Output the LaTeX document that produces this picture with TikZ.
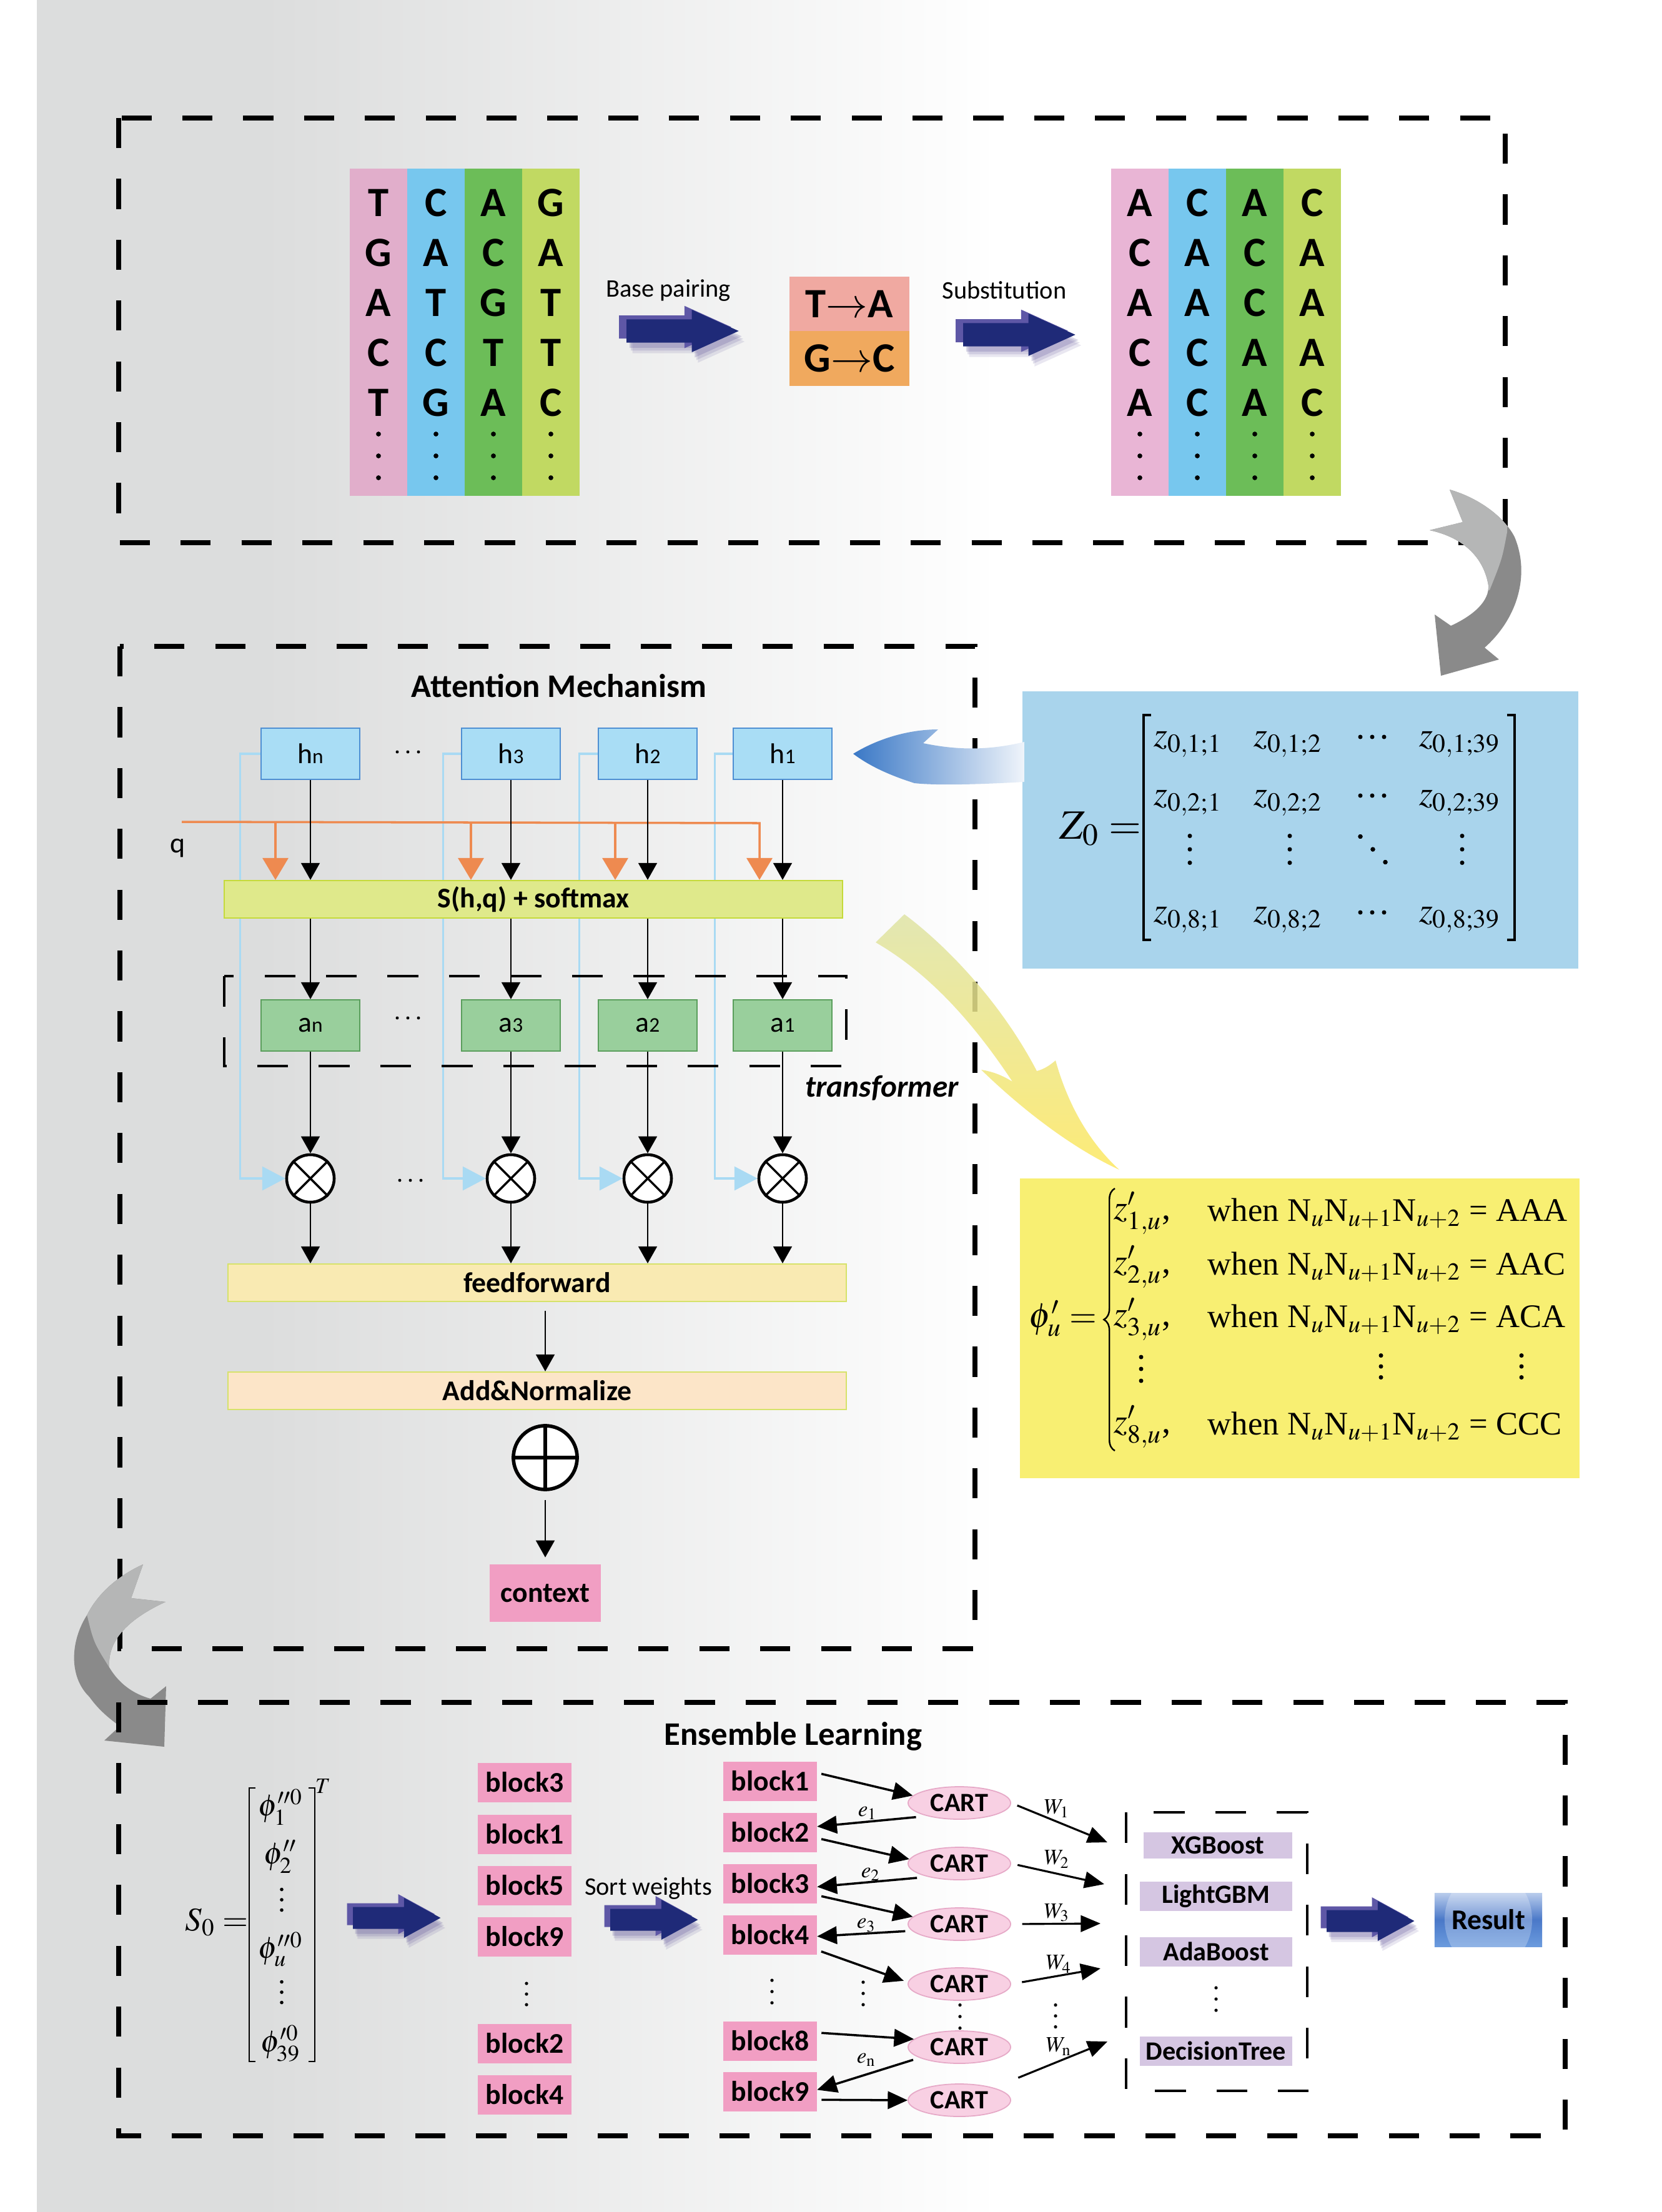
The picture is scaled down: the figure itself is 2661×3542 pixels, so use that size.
\documentclass[tikz,border=0pt]{standalone}
\usepackage{amsmath}
\usepackage{mathptmx}
\usepackage[no-math]{fontspec}
\setmainfont{Carlito}
\newfontfamily\tnr{Liberation Serif}
\usetikzlibrary{arrows.meta,shapes.geometric,decorations.pathreplacing}

\newcommand\fsz[1]{\fontsize{#1}{#1}\selectfont}
% three dots, upright and across
\newcommand\vdts[4]{\foreach \k in {-1,0,1} \fill (#1,{#2+\k*#3}) circle (#4);}
\newcommand\hdts[4]{\foreach \k in {-1,0,1} \fill ({#1+\k*#3},#2) circle (#4);}

\definecolor{bggray}{HTML}{DCDDDD}
\definecolor{dnapink}{HTML}{E1AECB}
\definecolor{rpink}{HTML}{E9B5D5}
\definecolor{dnablue}{HTML}{77C7EE}
\definecolor{dnagreen}{HTML}{6CBD58}
\definecolor{dnalime}{HTML}{C1D962}
\definecolor{tafill}{HTML}{F0A9A1}
\definecolor{gcfill}{HTML}{F0A95E}
\definecolor{navy}{HTML}{1F2A78}
\definecolor{navylight}{HTML}{5E57A6}
\definecolor{navyshade}{HTML}{4B3F8C}
\definecolor{graylight}{HTML}{B5B6B6}
\definecolor{graydark}{HTML}{8A8A8A}
\definecolor{zblue}{HTML}{A9D4EC}
\definecolor{phiyellow}{HTML}{F8EF72}
\definecolor{arrblue}{HTML}{3A78C6}
\definecolor{yolive}{HTML}{DFE4A6}
\definecolor{yyellow}{HTML}{FDE860}
\definecolor{hfill}{HTML}{A9DDF5}
\definecolor{hedge}{HTML}{4E8FD3}
\definecolor{afill}{HTML}{99CF9C}
\definecolor{aedge}{HTML}{5A9E5C}
\definecolor{sfill}{HTML}{DFE98B}
\definecolor{sedge}{HTML}{C5DA3A}
\definecolor{fffill}{HTML}{F9EAB2}
\definecolor{ffedge}{HTML}{D6E26A}
\definecolor{anfill}{HTML}{FCE5C8}
\definecolor{qorange}{HTML}{EE8A50}
\definecolor{feedblue}{HTML}{A9DAF3}
\definecolor{blockpink}{HTML}{F19EC3}
\definecolor{cartfill}{HTML}{F8D0E3}
\definecolor{cartedge}{HTML}{E6A9C7}
\definecolor{modelfill}{HTML}{D5C6E2}
\definecolor{restop}{HTML}{B9CCEC}
\definecolor{resmid}{HTML}{4A78C8}
\definecolor{resbot}{HTML}{6B9BDE}

\begin{document}
\begin{tikzpicture}[x=0.01cm, y=-0.01cm,
    bigdash/.style={line width=2.2pt, dash pattern=on 13.7pt off 14pt},
    thindash/.style={line width=0.9pt, dash pattern=on 14pt off 14pt},
    lbl/.style={font=\fsz{11.5}},
    ttl/.style={font=\bfseries\fsz{15}},
    dnaletter/.style={font=\bfseries\fsz{19}, inner sep=0pt},
    tabox/.style={minimum width=1.91cm, minimum height=0.87cm, inner sep=0pt, font=\bfseries\fsz{19}},
    hbox/.style={draw=hedge, fill=hfill, line width=0.6pt, minimum width=1.58cm, minimum height=0.82cm, inner sep=0pt, font=\fsz{13}},
    abox/.style={hbox, draw=aedge, fill=afill},
    wide/.style={minimum width=9.9cm, minimum height=0.6cm, inner sep=0pt, line width=0.6pt, font=\bfseries\fsz{13}},
    mult/.style={circle, draw, fill=white, line width=1.3pt, minimum size=0.76cm, inner sep=0pt},
    blk/.style={-{Triangle[width=8.5pt,length=7.7pt]}, line width=0.65pt},
    qarr/.style={-{Triangle[width=11.7pt,length=10pt]}, draw=qorange, line width=1pt},
    feed/.style={-{Triangle[width=10.8pt,length=10.5pt]}, draw=feedblue, line width=0.9pt},
    blockbox/.style={fill=blockpink, minimum width=1.49cm, minimum height=0.63cm, inner sep=0pt, font=\bfseries\fsz{13}},
    cart/.style={ellipse, draw=cartedge, fill=cartfill, line width=0.5pt, minimum width=1.64cm, minimum height=0.52cm, inner sep=0pt, font=\bfseries\fsz{12}},
    model/.style={fill=modelfill, minimum width=2.43cm, minimum height=0.47cm, inner sep=0pt, font=\bfseries\fsz{12}},
    ens/.style={-{Triangle[width=8pt,length=9pt]}, line width=1pt, shorten <=2pt},
    warr/.style={-{Triangle[width=7.5pt,length=9pt]}, line width=0.9pt},
    zmath/.style={inner sep=0pt, font=\fsz{16}},
    pmath/.style={inner sep=0pt, font=\tnr\fsz{16}},
    smath/.style={inner sep=0pt, font=\fsz{14}},
    elbl/.style={inner sep=0pt, font=\fsz{10}},
    resbox/.style={minimum width=1.72cm, minimum height=0.86cm, inner sep=0pt, top color=restop, bottom color=resbot, middle color=resmid, font=\bfseries\fsz{13},
      path picture={\fill[white, opacity=0.25] (path picture bounding box.center) ellipse (0.7cm and 0.8cm);}},
    navyarrow/.pic={
      \foreach \dx/\dy/\clr/\op in {8/16/navyshade/0.12, 6/12/navyshade/0.15, 4/8/navyshade/0.2, -10/-6/navylight/1, 0/0/navy/1}
        \fill[\clr, opacity=\op, shift={(\dx,\dy)}] (0,-17.5) -- (88,-17.5) -- (88,-32) -- (151,0) -- (88,32) -- (88,17.5) -- (0,17.5) -- cycle;
    }]
    % background
    \useasboundingbox (0,0) rectangle (2661,3542);
    \fill[white] (0,0) rectangle (2661,3542);
    \fill[bggray] (59,0) rectangle (421,3542);
    \shade[left color=bggray, right color=white] (420,0) rectangle (1600,3542);

    % draw top box
    \draw[bigdash] (190,189) rectangle (2410,869);
    \foreach \clr/\seq [count=\ci] in {dnapink/{T,G,A,C,T}, dnablue/{C,A,T,C,G}, dnagreen/{A,C,G,T,A}, dnalime/{G,A,T,T,C}} {
        \fill[\clr] ({468+92*\ci},270) rectangle ({560+92*\ci},794);
        \foreach \base [count=\ri] in \seq
            \node[dnaletter] (ld\ci\ri) at ({514+92*\ci},{245+80*\ri}) {\base};
        \vdts{514+92*\ci}{730}{35}{1.1pt}
    }
    \foreach \clr/\seq [count=\ci] in {rpink/{A,C,A,C,A}, dnablue/{C,A,A,C,C}, dnagreen/{A,C,C,A,A}, dnalime/{C,A,A,A,C}} {
        \fill[\clr] ({1687+92*\ci},270) rectangle ({1779+92*\ci},794);
        \foreach \base [count=\ri] in \seq
            \node[dnaletter] (rd\ci\ri) at ({1733+92*\ci},{245+80*\ri}) {\base};
        \vdts{1733+92*\ci}{730}{35}{1.1pt}
    }
    \node[lbl] (bp) at (1070,465) {Base pairing};
    \pic[xscale=1.19, yscale=1.06] at (1003,530) {navyarrow};
    \node[tabox, fill=tafill] (ta) at (1360,487) {T$\rightarrow$A};
    \node[tabox, fill=gcfill] (gc) at (1360,574) {G$\rightarrow$C};
    \node[lbl] (subst) at (1608,465) {Substitution};
    \pic[xscale=1.19, yscale=1.06] at (1542,536) {navyarrow};

    % gray arrow down to the matrix
    \begin{scope}
        \clip (2321,784) .. controls (2370,798) and (2410,830) .. (2425,860) .. controls (2450,920) and (2430,990) .. (2377,1037) -- (2400,1056) -- (2307,1082) -- (2297,984) -- (2323,1002) .. controls (2360,985) and (2385,962) .. (2383,937) .. controls (2375,890) and (2340,860) .. (2289,849) -- (2342,836) -- cycle;
        \fill[graydark] (2270,770) rectangle (2460,1090);
        \fill[graylight] (2250,760) -- (2416,760) -- (2413,852) .. controls (2405,895) .. (2385,945) -- (2250,945) -- cycle;
    \end{scope}

    % draw Z0 box
    \node[fill=zblue, minimum width=8.89cm, minimum height=4.44cm, inner sep=0pt] (zbox) at (2082,1329) {};
    \node[zmath, font=\fsz{19}] (zlhs) at (1762,1327) {$Z_0 =$};
    \foreach \rw/\yy in {1/1192, 2/1286, 8/1473} {
        \foreach \cl/\xx in {1/1902, 2/2062, 39/2337}
            \node[zmath] (z\rw-\cl) at (\xx,\yy) {$z_{0,\rw;\cl}$};
        \hdts{2197}{\yy-12}{19}{1pt}
    }
    \foreach \xx in {1905,2065,2341}
        \vdts{\xx}{1360}{21.5}{1pt}
    \foreach \k in {-1,0,1}
        \fill ({2198+\k*20},{1360+\k*20.5}) circle (1pt);
    \draw[line width=0.9pt] (1843,1145) -- (1831,1145) -- (1831,1505) -- (1843,1505);
    \draw[line width=0.9pt] (2413,1145) -- (2425,1145) -- (2425,1505) -- (2413,1505);

    % draw phi box
    \node[fill=phiyellow, minimum width=8.96cm, minimum height=4.79cm, inner sep=0pt] (phibox) at (2081,2127) {};
    \node[pmath] (phil) at (1702,2111) {$\phi'_u =$};
    \draw[decorate, decoration={brace, amplitude=5pt}, line width=0.7pt] (1785,2323) -- (1785,1903);
    \foreach \ki/\yy/\tripl in {1/1943/AAA, 2/2029/AAC, 3/2113/ACA, 8/2285/CCC} {
        \node[pmath] (zp\ki) at (1829,\yy) {$z'_{\ki,u}$,};
        \node[pmath, font=\tnr\fsz{15}, anchor=west] (when\ki) at (1933,\yy) {when N$_u$N$_{u+1}$N$_{u+2}$ = \tripl};
    }
    \vdts{1827}{2192}{19}{1pt}
    \vdts{2211}{2188}{17.5}{1pt}
    \vdts{2436}{2188}{17.5}{1pt}

    % draw attention box
    \draw[bigdash] (192,1035) rectangle (1561,2640);
    \node[ttl] (attn) at (895,1098) {Attention Mechanism};
    \foreach \hi/\xx in {n/497, 3/818, 2/1037, 1/1253} {
        \node[hbox] (h\hi) at (\xx,1207) {h{\fsz{9.5}\hi}};
        \node[mult] (m\hi) at (\xx,1887) {};
        \draw[line width=1pt] (m\hi.45) -- (m\hi.225) (m\hi.135) -- (m\hi.315);
    }
    \foreach \hi/\dx in {n/32, 3/28, 2/29, 1/28}
        \draw[feed] (h\hi.west) -- ++(-\dx,0) |- (m\hi.west);
    \node[wide, draw=sedge, fill=sfill] (sbox) at (854,1440) {S(h,q) + softmax};
    \draw[thindash] (359,1563) rectangle (1355,1707);
    \foreach \hi/\xx in {n/497, 3/818, 2/1037, 1/1253}
        \node[abox] (a\hi) at (\xx,1642) {a{\fsz{9.5}\hi}};
    \node[wide, draw=ffedge, fill=fffill] (ff) at (860,2054) {feedforward};
    \node[wide, draw=ffedge, fill=anfill] (addn) at (860,2227) {Add\&Normalize};
    \node[mult, minimum size=1.02cm, line width=1.6pt] (oplus) at (873,2334) {};
    \draw[line width=1.6pt] (oplus.north) -- (oplus.south) (oplus.west) -- (oplus.east);
    \node[fill=blockpink, minimum width=1.78cm, minimum height=0.92cm, font=\bfseries\fsz{13}] (ctx) at (873,2551) {context};

    % q line
    \coordinate (qin) at (291,1316);
    \node[font=\fsz{13}] (qlbl) at (285,1358) {q};
    \draw[qarr] (qin) -- (1216,1318) -- (1216,1318 |- sbox.north);
    \foreach \xx in {441,754,985}
        \draw[qarr] (\xx,1317) -- (\xx,1317 |- sbox.north);

    % arrows through the columns
    \foreach \hi in {n,3,2,1} {
        \draw[blk] (h\hi.south) -- (h\hi.south |- sbox.north);
        \draw[blk] (h\hi.south |- sbox.south) -- (a\hi.north);
        \draw[blk] (a\hi.south) -- (m\hi.north);
        \draw[blk] (m\hi.south) -- (m\hi.south |- ff.north);
    }
    \draw[blk, shorten <=4pt] (oplus |- ff.south) -- (oplus |- addn.north);
    \draw[blk, shorten <=4pt, shorten >=3pt] (oplus.south) -- (ctx.north);
    \hdts{653}{1204}{17}{0.7pt}
    \hdts{653}{1630}{17}{0.7pt}
    \hdts{657}{1890}{17}{0.7pt}
    \node[font=\bfseries\itshape\fsz{14}] (trf) at (1412,1742) {transformer};

    % blue arrow from matrix
    \shade[left color=arrblue, right color=arrblue!8] (1366,1207) .. controls (1410,1180) and (1460,1168) .. (1502,1168) -- (1478,1190) .. controls (1540,1203) and (1590,1200) .. (1640,1188) -- (1640,1252) .. controls (1570,1256) and (1500,1258) .. (1464,1254) .. controls (1420,1240) and (1390,1225) .. (1366,1207) -- cycle;
    % yellow arrow to phi box
    \shade[top color=yolive, bottom color=yyellow, opacity=0.85] (1402,1509) -- (1448,1464) .. controls (1510,1510) and (1600,1600) .. (1660,1715) .. controls (1672,1712) and (1682,1705) .. (1690,1698) .. controls (1710,1770) and (1745,1830) .. (1792,1873) .. controls (1720,1840) and (1640,1780) .. (1571,1713) .. controls (1590,1716) and (1605,1722) .. (1621,1732) .. controls (1560,1640) and (1490,1560) .. (1402,1509) -- cycle;

    % gray arrow down to ensemble
    \begin{scope}
        \clip (229,2505) .. controls (185,2525) and (155,2555) .. (140,2585) .. controls (112,2628) and (110,2685) .. (143,2717) .. controls (158,2738) and (175,2752) .. (192,2764) -- (167,2787) -- (263,2797) -- (266,2700) -- (241,2720) .. controls (212,2712) and (190,2695) .. (175,2670) .. controls (172,2630) and (200,2595) .. (265,2565) -- (210,2559) -- cycle;
        \fill[graydark] (100,2490) rectangle (280,2810);
        \fill[graylight] (139,2585) .. controls (150,2630) .. (175,2670) -- (320,2670) -- (320,2480) -- (80,2480) -- (80,2585) -- cycle;
    \end{scope}

    % draw ensemble box
    \draw[bigdash] (190,2726) rectangle (2506,3420);
    \node[ttl] (enstitle) at (1270,2780) {Ensemble Learning};
    \node[smath, font=\fsz{15}] (slhs) at (347,3078) {$S_0 =$};
    \node[smath] (phi1) at (449,2894) {$\phi_1^{\prime\prime 0}$};
    \node[smath] (phi2) at (449,2973) {$\phi_2^{\prime\prime}$};
    \vdts{451}{3042}{16.5}{0.8pt}
    \node[smath] (phiu) at (449,3121) {$\phi_u^{\prime\prime 0}$};
    \vdts{451}{3190}{16.5}{0.8pt}
    \node[smath] (phi39) at (449,3272) {$\phi_{39}^{\prime 0}$};
    \draw[line width=0.8pt] (409,2863) -- (399,2863) -- (399,3301) -- (409,3301);
    \draw[line width=0.8pt] (494,2863) -- (504,2863) -- (504,3301) -- (494,3301);
    \node[elbl] (sT) at (517,2860) {$T$};
    \pic[xscale=0.93] at (565,3071) {navyarrow};

    \foreach \bi/\yy in {3/2854, 1/2937, 5/3019, 9/3101, 2/3272, 4/3354}
        \node[blockbox] (r\bi) at (840,\yy) {block\bi};
    \vdts{843}{3193}{17}{0.75pt}
    \node[lbl] (sortw) at (1038,3024) {Sort weights};
    \pic[xscale=0.93] at (977,3074) {navyarrow};

    \foreach \bi/\yy in {1/2852, 2/2934, 3/3016, 4/3098, 8/3268, 9/3349}
        \node[blockbox] (s\bi) at (1233,\yy) {block\bi};
    \vdts{1236}{3189}{18}{0.75pt}
    \foreach \ki/\yy in {1/2887, 2/2984, 3/3081, 4/3177, 5/3278, 6/3363}
        \node[cart] (c\ki) at (1536,\yy) {CART};
    \vdts{1382}{3192}{18}{0.75pt}
    \vdts{1537}{3229}{18.5}{0.75pt}
    \vdts{1690}{3228}{17.5}{0.75pt}

    % block and CART arrows
    \draw[ens] (s1.10) -- (c1.171);
    \draw[ens, shorten <=5pt] (c1.202) -- (s2.7);
    \draw[ens] (s2.-7) -- (c2.175);
    \draw[ens, shorten <=5pt] (c2.203) -- (s3.-4);
    \draw[ens] (s3.-14) -- (c3.171);
    \draw[ens, shorten <=3pt] (c3.188) -- (s4.-2);
    \draw[ens, shorten >=2pt] (s4.-18) -- (c4.178);
    \draw[ens] (s8.10) -- (c5.170);
    \draw[ens, shorten <=3pt] (c5.195) -- (s9.2);
    \draw[ens] (s9.-10) -- (c6.west);
    \node[elbl] (e1) at (1389,2903) {$e_{1}$};
    \node[elbl] (e2) at (1394,3001) {$e_{2}$};
    \node[elbl] (e3) at (1387,3083) {$e_{3}$};
    \node[elbl] (en) at (1387,3298) {$e_{\mathrm{n}}$};

    % weights to the models
    \coordinate (w1) at (1773,2950);
    \coordinate (w2) at (1768,3017);
    \coordinate (w3) at (1762,3080);
    \coordinate (w4) at (1762,3152);
    \coordinate (wn) at (1773,3269);
    \draw[warr, shorten <=3pt] (c1.east) -- (w1);
    \draw[warr, shorten <=3pt] (c2.east) -- (w2);
    \draw[warr, shorten <=5pt] (c3.east) -- (w3);
    \draw[warr, shorten <=5pt] (c4.east) -- (w4);
    \draw[warr, shorten <=12pt] (c6.20) -- (wn);
    \node[elbl] (lw1) at (1692,2896) {$W_1$};
    \node[elbl] (lw2) at (1692,2977) {$W_2$};
    \node[elbl] (lw3) at (1692,3063) {$W_3$};
    \node[elbl] (lw4) at (1695,3145) {$W_4$};
    \node[elbl] (lwn) at (1695,3277) {$W_{\mathrm{n}}$};

    % models
    \draw[line width=1.3pt, dash pattern=on 14pt off 14pt] (1803,2902) rectangle (2093,3348);
    \node[model, minimum width=2.38cm, minimum height=0.42cm] (xgb) at (1950,2955) {XGBoost};
    \node[model] (lgbm) at (1947,3036) {LightGBM};
    \node[model] (ada) at (1947,3125) {AdaBoost};
    \vdts{1947}{3201}{18}{0.75pt}
    \node[model] (dtree) at (1947,3284) {DecisionTree};
    \pic[xscale=0.93] at (2124,3076) {navyarrow};
    \node[resbox] (result) at (2383,3074) {Result};
\end{tikzpicture}
\end{document}
